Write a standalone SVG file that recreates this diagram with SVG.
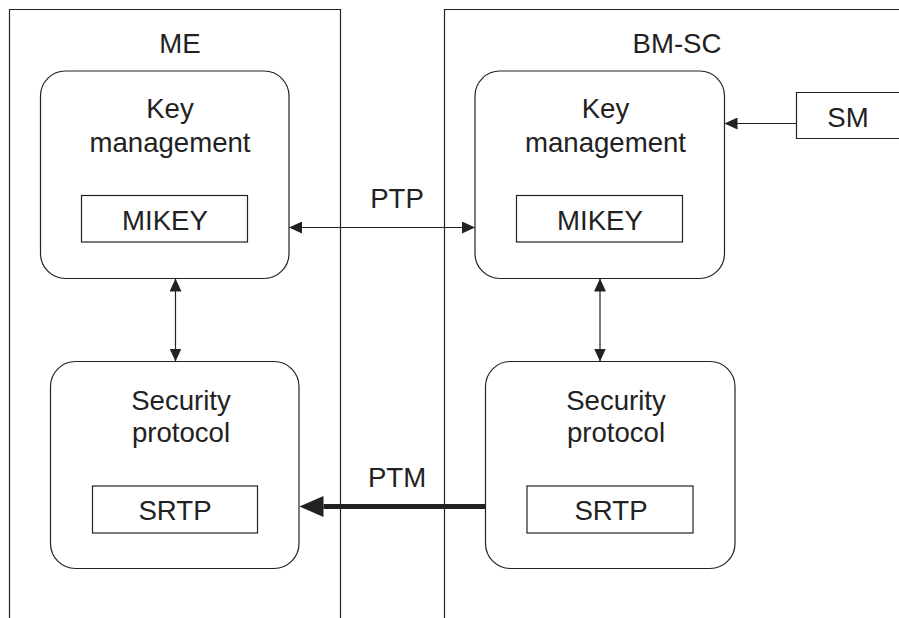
<svg xmlns="http://www.w3.org/2000/svg" width="899" height="618" viewBox="0 0 899 618">
<style>
.ln{fill:none;stroke:#222;stroke-width:1.2}
.bx{fill:#fff;stroke:#222;stroke-width:1.2}
.t{font-family:"Liberation Sans",Arial,sans-serif;font-size:27.6px;fill:#222;text-anchor:middle}
</style>
<defs>
<marker id="ah" viewBox="0 0 13 12" markerWidth="13" markerHeight="12" refX="13" refY="6" orient="auto-start-reverse" markerUnits="userSpaceOnUse">
<path d="M0,0 L13,6 L0,12 z" fill="#222"/>
</marker>
<marker id="ahb" viewBox="0 0 24 21" markerWidth="24" markerHeight="21" refX="0" refY="10.5" orient="auto" markerUnits="userSpaceOnUse">
<path d="M0,0 L24,10.5 L0,21 z" fill="#222"/>
</marker>
</defs>
<rect width="899" height="618" fill="#fff"/>
<g id="me">
<path class="ln" d="M9.5,618 V9.5 H340.5 V618"/>
<text class="t" x="180" y="53">ME</text>
</g>
<g id="bmsc">
<path class="ln" d="M444.5,618 V9.5 H899"/>
<text class="t" x="677" y="53">BM-SC</text>
</g>
<g id="me-key">
<rect class="bx" x="40.5" y="71" width="248.5" height="207.5" rx="25" ry="25"/>
<text class="t" x="170" y="118">Key</text>
<text class="t" x="170" y="151.5">management</text>
<rect class="bx" x="81.5" y="195.5" width="166" height="46.5"/>
<text class="t" x="165" y="230">MIKEY</text>
</g>
<g id="bmsc-key">
<rect class="bx" x="475" y="71" width="249.5" height="207.5" rx="25" ry="25"/>
<text class="t" x="605.5" y="118">Key</text>
<text class="t" x="605.5" y="151.5">management</text>
<rect class="bx" x="516.5" y="195.5" width="166" height="46.5"/>
<text class="t" x="600" y="230">MIKEY</text>
</g>
<g id="sm">
<path class="bx" d="M899,92.5 H796.5 V138.5 H899"/>
<text class="t" x="848" y="126.5">SM</text>
</g>
<g id="me-sec">
<rect class="bx" x="50.5" y="361.5" width="248.5" height="207" rx="25" ry="25"/>
<text class="t" x="181" y="410">Security</text>
<text class="t" x="181" y="441.5">protocol</text>
<rect class="bx" x="92.5" y="486" width="165" height="47"/>
<text class="t" x="175" y="519.5">SRTP</text>
</g>
<g id="bmsc-sec">
<rect class="bx" x="485.5" y="361.5" width="249.5" height="207" rx="25" ry="25"/>
<text class="t" x="616" y="410">Security</text>
<text class="t" x="616" y="441.5">protocol</text>
<rect class="bx" x="527" y="486" width="166" height="47"/>
<text class="t" x="611" y="519.5">SRTP</text>
</g>
<g id="connectors">
<line class="ln" x1="289" y1="227.5" x2="475" y2="227.5" marker-start="url(#ah)" marker-end="url(#ah)"/>
<text class="t" x="397" y="208">PTP</text>
<line class="ln" x1="796.5" y1="123.5" x2="724.5" y2="123.5" marker-end="url(#ah)"/>
<line class="ln" x1="175.5" y1="278.5" x2="175.5" y2="361.5" marker-start="url(#ah)" marker-end="url(#ah)"/>
<line class="ln" x1="600" y1="278.5" x2="600" y2="361.5" marker-start="url(#ah)" marker-end="url(#ah)"/>
<line x1="485.5" y1="506.5" x2="323.5" y2="506.5" stroke="#222" stroke-width="5" marker-end="url(#ahb)"/>
<text class="t" x="397" y="486.5">PTM</text>
</g>
</svg>
